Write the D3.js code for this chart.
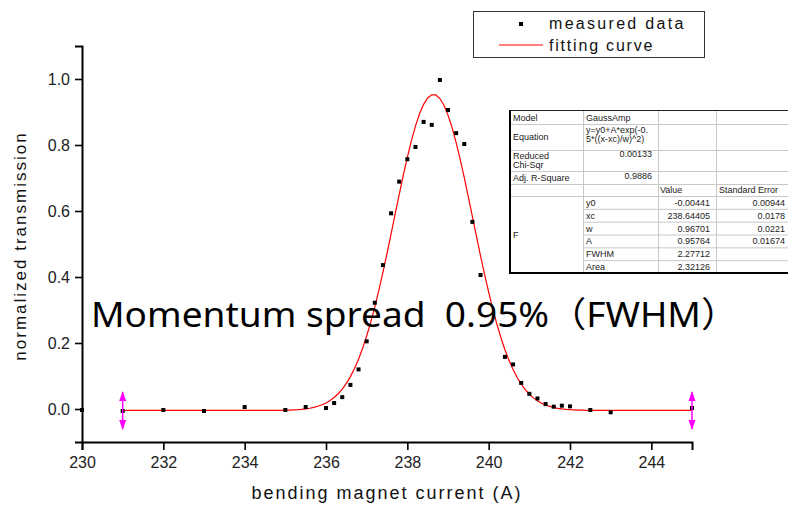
<!DOCTYPE html>
<html>
<head>
<meta charset="utf-8">
<script src="https://cdn.jsdelivr.net/npm/d3@7"></script>
<style>
  body { margin: 0; background: #fff; }
  svg { display: block; font-family: "Liberation Sans", Arial, sans-serif; }
</style>
</head>
<body>
<svg width="788" height="505"></svg>
<script>
// measured points
const currents = [230, 231, 232, 233, 234, 235, 235.5, 236, 236.2, 236.4,
  236.6, 236.8, 237, 237.2, 237.4, 237.6, 237.8, 238, 238.2, 238.4,
  238.6, 238.8, 239, 239.2, 239.4, 239.6, 239.8, 240.4, 240.6, 240.8,
  241, 241.2, 241.4, 241.6, 241.8, 242, 242.5, 243, 245];
const transmission = [-0.003, -0.006, -0.003, -0.006, 0.006, -0.003, 0.006, 0.003, 0.018, 0.036,
  0.073, 0.12, 0.205, 0.322, 0.436, 0.593, 0.689, 0.757, 0.794, 0.87,
  0.861, 0.997, 0.906, 0.836, 0.803, 0.567, 0.406, 0.158, 0.135, 0.079,
  0.046, 0.032, 0.015, 0.007, 0.01, 0.008, -0.003, -0.01, 0.003];

// GaussAmp fit, as given in the table
const fitNames = ["y0", "xc", "w", "A", "FWHM", "Area"];
const fitValues = ["-0.00441", "238.64405", "0.96701", "0.95764", "2.27712", "2.32126"];
const fitErrors = ["0.00944", "0.0178", "0.0221", "0.01674", "", ""];
const fitRange = [231, 245];

const xTicks = [230, 232, 234, 236, 238, 240, 242, 244];
const xMinor = [231, 233, 235, 237, 239, 241, 243, 245];
const yTicks = [0, 0.2, 0.4, 0.6, 0.8, 1.0];
const yMinor = [-0.1, 0.1, 0.3, 0.5, 0.7, 0.9, 1.1];

const svg = d3.select("svg");

const x = d3.scaleLinear().domain([230, 245]).range([82, 692]);
const y = d3.scaleLinear().domain([-0.1, 1.1]).range([442, 46]);

// axes
const gx = svg.append("g").attr("transform", `translate(0, ${y(-0.1)})`);
gx.call(d3.axisBottom(x).tickValues(xMinor).tickSize(4).tickFormat(""));
gx.call(d3.axisBottom(x).tickValues(xTicks).tickSize(8).tickPadding(7).tickFormat(d3.format("d")));

const gy = svg.append("g").attr("transform", `translate(${x(230)}, 0)`);
gy.call(d3.axisLeft(y).tickValues(yMinor).tickSize(4).tickFormat(""));
gy.call(d3.axisLeft(y).tickValues(yTicks).tickSize(7).tickPadding(5).tickFormat(d3.format(".1f")));

svg.selectAll(".domain").attr("stroke", "#000").attr("stroke-width", 2);
svg.selectAll(".tick line").attr("stroke", "#000").attr("stroke-width", 1.6);
svg.selectAll(".tick text").attr("font-size", 16).attr("fill", "#222")
  .attr("font-family", "'Liberation Sans', Arial, sans-serif");

svg.append("text")
  .attr("x", 387).attr("y", 499)
  .attr("text-anchor", "middle")
  .attr("font-size", 18).attr("letter-spacing", 2).attr("fill", "#111")
  .text("bending magnet current (A)");

svg.append("text")
  .attr("transform", "translate(26, 246) rotate(-90)")
  .attr("text-anchor", "middle")
  .attr("font-size", 17).attr("letter-spacing", 2).attr("fill", "#111")
  .text("normalized transmission");

// fitting curve
const [y0, xc, w, A] = fitValues.slice(0, 4).map(Number);
const curveX = d3.range(fitRange[0], fitRange[1] + 0.001, 0.1);
const line = d3.line().x(d => x(d)).y(d => y(y0 + A * Math.exp(-0.5 * ((d - xc) / w) ** 2)));
svg.append("path")
  .datum(curveX)
  .attr("d", line)
  .attr("fill", "none")
  .attr("stroke", "#ff0000")
  .attr("stroke-width", 1.2);

// data markers
svg.append("g")
  .selectAll("rect")
  .data(currents)
  .join("rect")
  .attr("x", (d, i) => x(d) - 2)
  .attr("y", (d, i) => y(transmission[i]) - 2)
  .attr("width", 4)
  .attr("height", 4)
  .attr("fill", "#000");

// data selector markers at the fit range ends
const sel = svg.append("g").attr("fill", "#ff00ff").attr("stroke", "#ff00ff");
fitRange.forEach(v => {
  const cx = x(v), cy = y(0);
  sel.append("line").attr("x1", cx).attr("x2", cx).attr("y1", cy - 17).attr("y2", cy + 20)
    .attr("stroke-width", 1.5);
  sel.append("path").attr("stroke", "none")
    .attr("d", `M${cx},${cy - 18}L${cx - 3.5},${cy - 8}L${cx + 3.5},${cy - 8}Z`);
  sel.append("path").attr("stroke", "none")
    .attr("d", `M${cx},${cy + 21}L${cx - 3.5},${cy + 11}L${cx + 3.5},${cy + 11}Z`);
});

// legend
const leg = svg.append("g");
leg.append("rect").attr("x", 473.5).attr("y", 11.5).attr("width", 231).attr("height", 46)
  .attr("fill", "#fff").attr("stroke", "#333").attr("stroke-width", 1);
leg.append("rect").attr("x", 519).attr("y", 22).attr("width", 4).attr("height", 4).attr("fill", "#000");
leg.append("text").attr("x", 549).attr("y", 29).attr("font-size", 16).attr("letter-spacing", 2.3)
  .attr("fill", "#111").text("measured data");
leg.append("line").attr("x1", 499).attr("x2", 543).attr("y1", 45).attr("y2", 45)
  .attr("stroke", "#ff0000").attr("stroke-width", 1.2);
leg.append("text").attr("x", 549).attr("y", 51).attr("font-size", 16).attr("letter-spacing", 1.8)
  .attr("fill", "#111").text("fitting curve");

// fit report table
const tbl = svg.append("g").attr("font-size", 9).attr("fill", "#222")
  .attr("font-family", "Arial, 'Liberation Sans', sans-serif");
const cols = [510, 583, 658, 716, 800];
const rowsTop = [110, 124, 150, 171, 184, 196];
const rowH = (273 - 196) / 6;
const fRows = d3.range(7).map(i => 196 + i * rowH);

tbl.append("rect").attr("x", 510).attr("y", 110).attr("width", 300).attr("height", 163).attr("fill", "#fff");
const grid = tbl.append("g").attr("stroke", "#c8c8c8").attr("stroke-width", 1);
rowsTop.forEach(r => grid.append("line").attr("x1", cols[0]).attr("x2", 790).attr("y1", r + 0.5).attr("y2", r + 0.5));
fRows.slice(1, 6).forEach(r => grid.append("line").attr("x1", cols[1]).attr("x2", 790).attr("y1", r + 0.5).attr("y2", r + 0.5));
cols.slice(1, 4).forEach(c => grid.append("line").attr("x1", c + 0.5).attr("x2", c + 0.5).attr("y1", 110).attr("y2", 273));
tbl.append("line").attr("x1", 510).attr("x2", 790).attr("y1", 110.5).attr("y2", 110.5).attr("stroke", "#222");
tbl.append("line").attr("x1", 510).attr("x2", 510).attr("y1", 110).attr("y2", 274).attr("stroke", "#000").attr("stroke-width", 2);
tbl.append("line").attr("x1", 509).attr("x2", 790).attr("y1", 273).attr("y2", 273).attr("stroke", "#000").attr("stroke-width", 2);

const label = (t, xx, yy, anchor) => tbl.append("text").attr("x", xx).attr("y", yy)
  .attr("text-anchor", anchor || "start").text(t);
label("Model", 513, 121);
label("GaussAmp", 586, 121);
label("Equation", 513, 140);
label("y=y0+A*exp(-0.", 586, 133);
label("5*((x-xc)/w)^2)", 586, 142);
label("Reduced", 513, 159);
label("Chi-Sqr", 513, 168);
label("0.00133", 652, 157, "end");
label("Adj. R-Square", 513, 181);
label("0.9886", 652, 179, "end");
label("Value", 660, 193);
label("Standard Error", 719, 193);
label("F", 513, 238);
fitNames.forEach((n, i) => {
  const yy = fRows[i] + rowH - 3;
  label(n, 586, yy);
  label(fitValues[i], 710, yy, "end");
  if (fitErrors[i]) label(fitErrors[i], 785, yy, "end");
});

// annotation
svg.append("text")
  .attr("x", 91).attr("y", 327)
  .attr("font-family", "'Noto Sans', 'Noto Sans CJK SC', sans-serif")
  .attr("font-size", 35)
  .style("white-space", "pre")
  .attr("textLength", 647).attr("lengthAdjust", "spacingAndGlyphs")
  .attr("fill", "#000")
  .text("Momentum spread  0.95%（FWHM）");
</script>
</body>
</html>
